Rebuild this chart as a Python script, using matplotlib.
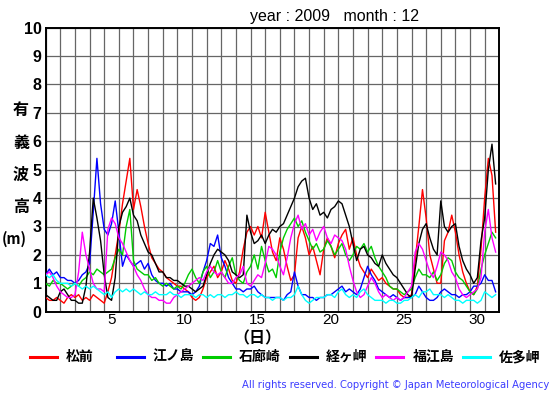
import numpy as np
import matplotlib
matplotlib.use('Agg')
import matplotlib.pyplot as plt
from matplotlib.lines import Line2D

plt.rcParams['font.family'] = ['Liberation Sans', 'Noto Sans CJK JP', 'DejaVu Sans']

# significant wave height (m), every 6 hours from Dec 1 00:00
stations = ['松前', '江ノ島', '石廊崎', '経ヶ岬', '福江島', '佐多岬']
colors = ['#ff0000', '#0000ff', '#00cc00', '#000000', '#ff00ff', '#00ffff']

matsumae = [0.5, 0.4, 0.4, 0.5, 0.4, 0.3, 0.5, 0.6, 0.5, 0.6, 0.4, 0.5, 0.4, 0.6, 0.5, 0.4,
            0.3, 0.7, 1.2, 2.0, 2.8, 3.8, 4.6, 5.4, 3.6, 4.3, 3.7, 3.0, 2.4, 1.9, 1.7, 1.5,
            1.4, 1.2, 1.1, 1.0, 0.9, 0.9, 0.8, 0.7, 0.5, 0.4, 0.5, 0.8, 1.2, 1.4, 1.6, 1.2,
            1.4, 1.8, 1.5, 1.1, 1.0, 1.4, 2.2, 2.8, 3.0, 2.7, 3.0, 2.6, 3.5, 2.8, 2.1, 1.8,
            2.6, 2.2, 1.6, 1.1, 1.3, 2.6, 3.0, 2.6, 2.0, 2.3, 1.8, 1.3, 2.2, 2.6, 2.3, 1.9,
            2.4, 2.7, 2.9, 2.2, 2.6, 2.0, 1.6, 1.4, 1.2, 1.5, 1.3, 1.1, 1.2, 1.0, 0.9, 0.8,
            0.8, 0.6, 0.5, 0.5, 0.6, 1.8, 3.0, 4.3, 3.3, 2.0, 1.5, 1.0, 1.0, 2.5, 2.8, 3.4,
            2.8, 2.0, 1.4, 1.0, 0.7, 0.6, 0.9, 2.2, 4.0, 5.4, 4.8, 2.8]
enoshima = [1.3, 1.5, 1.3, 1.4, 1.2, 1.2, 1.1, 1.1, 1.0, 1.1, 1.3, 1.4, 1.7, 3.5, 5.4, 3.8,
            2.9, 2.7, 3.1, 3.9, 2.8, 1.6, 2.0, 1.8, 1.6, 1.7, 1.8, 1.5, 1.7, 1.3, 1.1, 1.0,
            1.0, 0.9, 1.0, 0.8, 0.8, 0.7, 0.7, 0.7, 0.6, 0.7, 0.9, 1.4, 1.8, 2.4, 2.3, 2.7,
            1.9, 1.6, 1.2, 1.0, 0.8, 0.8, 0.7, 0.8, 0.8, 0.9, 0.7, 0.6, 0.5, 0.5, 0.5, 0.5,
            0.5, 0.4, 0.6, 0.7, 1.4, 0.9, 0.6, 0.6, 0.5, 0.5, 0.4, 0.5, 0.5, 0.6, 0.6, 0.7,
            0.8, 0.9, 0.7, 0.8, 0.7, 0.6, 0.8, 1.2, 1.6, 1.3, 1.1, 0.8, 0.7, 0.6, 0.5, 0.6,
            0.5, 0.4, 0.5, 0.5, 0.5, 0.6, 0.9, 0.7, 0.5, 0.4, 0.4, 0.5, 0.7, 0.8, 0.7, 0.6,
            0.6, 0.5, 0.6, 0.6, 0.7, 0.9, 0.9, 1.0, 1.3, 1.1, 1.1, 0.7]
irozaki = [1.0, 0.9, 1.1, 1.0, 1.0, 0.9, 0.8, 0.9, 1.0, 0.9, 1.1, 1.2, 1.4, 1.3, 1.5, 1.4,
           1.3, 1.4, 1.5, 1.9, 2.2, 2.0, 3.0, 3.6, 1.8, 1.5, 1.4, 1.3, 1.3, 1.1, 1.2, 1.0,
           0.9, 1.0, 0.9, 0.8, 0.9, 0.8, 1.0, 1.3, 1.5, 1.2, 1.0, 1.4, 1.6, 1.2, 1.4, 1.8,
           1.4, 1.2, 1.6, 1.9, 1.3, 1.1, 1.0, 1.4, 1.6, 2.0, 1.5, 2.3, 1.8, 1.4, 1.5, 1.2,
           2.1, 2.6, 2.9, 3.1, 3.3, 3.0, 3.2, 2.8, 2.5, 2.2, 2.4, 2.1, 2.2, 2.5, 2.3, 2.0,
           2.2, 2.4, 2.0, 1.8, 2.0, 2.3, 2.2, 2.4, 2.1, 2.3, 1.9, 1.6, 1.4, 1.2, 0.9, 0.8,
           0.8, 0.7, 0.6, 0.7, 0.8, 1.2, 1.5, 1.3, 1.3, 1.2, 1.4, 1.1, 1.3, 1.7, 1.9, 1.8,
           1.4, 1.2, 1.1, 0.9, 0.7, 0.6, 0.8, 1.5, 2.0, 2.4, 2.8, 2.6]
kyogamisaki = [0.6, 0.5, 0.4, 0.4, 0.7, 0.8, 0.6, 0.4, 0.4, 0.3, 0.3, 0.9, 2.1, 4.0, 3.3, 2.5,
               1.3, 0.5, 0.4, 1.2, 3.0, 3.5, 3.7, 4.0, 3.4, 3.2, 2.7, 2.4, 2.1, 2.0, 1.7, 1.4,
               1.4, 1.2, 1.2, 1.1, 1.1, 1.0, 0.9, 0.9, 0.8, 0.7, 0.8, 0.9, 1.3, 1.7, 2.0, 2.2,
               2.1, 2.0, 1.8, 1.4, 1.3, 1.2, 1.3, 3.4, 2.8, 2.4, 2.5, 2.7, 2.4, 2.7, 2.9, 2.8,
               3.0, 3.1, 3.4, 3.7, 4.0, 4.4, 4.6, 4.7, 4.0, 3.6, 3.8, 3.4, 3.5, 3.3, 3.6, 3.7,
               3.9, 3.8, 3.4, 3.0, 2.4, 1.8, 2.2, 2.3, 2.0, 1.9, 1.7, 1.6, 2.0, 1.7, 1.5, 1.3,
               1.2, 1.0, 0.8, 0.6, 0.5, 1.5, 2.4, 2.9, 3.1, 2.6, 2.2, 2.0, 3.9, 3.0, 2.8, 3.0,
               3.1, 2.3, 1.8, 1.5, 1.3, 1.0, 1.2, 2.5, 3.3, 5.0, 5.9, 4.5]
fukuejima = [1.3, 1.4, 1.2, 0.9, 0.7, 0.6, 0.5, 0.5, 0.6, 1.4, 2.8, 2.0, 1.5, 1.0, 0.8, 0.8,
             0.7, 2.9, 3.3, 3.1, 2.6, 2.4, 2.1, 1.8, 1.6, 1.3, 1.1, 0.8, 0.6, 0.5, 0.5, 0.4,
             0.4, 0.3, 0.3, 0.5, 0.6, 0.7, 0.8, 0.9, 1.0, 1.1, 1.2, 1.1, 1.4, 1.6, 1.4, 1.3,
             1.4, 1.2, 1.0, 1.0, 1.2, 1.3, 1.6, 1.0, 0.9, 1.1, 1.3, 1.2, 1.7, 2.3, 2.2, 2.0,
             1.6, 1.3, 1.9, 2.6, 3.1, 3.4, 2.9, 3.1, 2.7, 2.9, 2.5, 2.8, 3.0, 2.6, 2.4, 2.7,
             2.6, 2.5, 2.2, 1.6, 1.1, 0.7, 0.5, 0.6, 0.9, 1.2, 1.0, 0.7, 0.5, 0.6, 0.5, 0.4,
             0.5, 0.4, 0.5, 0.7, 0.9, 2.1, 2.4, 2.2, 1.8, 1.4, 1.2, 1.6, 2.1, 2.0, 1.8, 1.4,
             1.2, 0.8, 0.6, 0.5, 0.6, 0.7, 0.8, 1.2, 2.8, 3.6, 2.6, 2.1]
satamisaki = [1.3, 1.2, 1.3, 1.1, 1.0, 1.0, 1.0, 0.9, 1.0, 0.9, 0.8, 0.9, 0.8, 0.9, 0.8, 0.7,
              0.6, 0.7, 0.5, 0.7, 0.8, 0.7, 0.8, 0.7, 0.8, 0.7, 0.6, 0.7, 0.6, 0.6, 0.7, 0.6,
              0.6, 0.6, 0.7, 0.6, 0.6, 0.5, 0.6, 0.6, 0.6, 0.5, 0.6, 0.6, 0.5, 0.6, 0.5, 0.6,
              0.6, 0.5, 0.6, 0.6, 0.7, 0.6, 0.6, 0.5, 0.6, 0.6, 0.5, 0.6, 0.5, 0.5, 0.4, 0.5,
              0.5, 0.4, 0.5, 0.5, 0.6, 0.9, 0.6, 0.4, 0.3, 0.4, 0.5, 0.5, 0.5, 0.6, 0.6, 0.5,
              0.7, 0.8, 0.6, 0.5, 0.6, 0.5, 0.7, 0.8, 0.6, 0.5, 0.4, 0.4, 0.4, 0.3, 0.4, 0.4,
              0.3, 0.3, 0.4, 0.4, 0.5, 0.6, 0.5, 0.7, 0.7, 0.8, 0.6, 0.6, 0.6, 0.5, 0.6, 0.5,
              0.4, 0.4, 0.3, 0.4, 0.4, 0.4, 0.3, 0.4, 0.7, 0.6, 0.5, 0.6]
series = [matsumae, enoshima, irozaki, kyogamisaki, fukuejima, satamisaki]

day_ticks = [5, 10, 15, 20, 25, 30]
W, H = 555, 395
cjk = ['Noto Sans CJK JP', 'DejaVu Sans']

fig = plt.figure(figsize=(W / 100, H / 100), dpi=100)
ax = fig.add_axes([45.7 / W, 1 - 311.7 / H, (499.3 - 45.7) / W, (311.7 - 27.7) / H])

for vals, c in zip(series, colors):
    t = np.arange(len(vals)) * 6 / 24.0  # days since Dec 1 00:00
    ax.plot(t, vals, color=c, lw=1.0, zorder=3)

ax.set_xlim(0, 31)
ax.set_ylim(0, 10)
ax.set_xticks(np.arange(0, 32))
ax.set_xticklabels([])
ax.set_xticks([d - 0.5 for d in day_ticks], minor=True)
ax.set_xticklabels([str(d) for d in day_ticks], minor=True, fontsize=11)
ax.set_yticks(np.arange(0, 11))
ax.set_yticklabels([str(v) for v in range(11)], fontsize=11.5, fontweight='bold')
ax.tick_params(axis='both', which='both', length=0)
ax.tick_params(axis='x', which='minor', pad=1)
ax.tick_params(axis='y', pad=3)
ax.grid(True, which='major', color='#666666', lw=0.9, zorder=1)
for s in ax.spines.values():
    s.set_linewidth(1.4)

# title
fig.text(250 / W, 1 - 16 / H, 'year : 2009   month : 12', fontsize=11.5, va='center', ha='left')

# vertical y label
for ch, yp in zip(['有', '義', '波', '高'], [110, 143, 175, 207]):
    fig.text(21 / W, 1 - yp / H, ch, fontsize=11.5, fontweight='bold', ha='center', va='center',
             family=cjk)
fig.text(14 / W, 1 - 239 / H, '(m)', fontsize=10.5, fontweight='bold', ha='center', va='center',
         family=cjk)

fig.text(257 / W, 1 - 338 / H, '（日）', fontsize=11.5, fontweight='bold', ha='center', va='center',
         family=cjk)

# legend row
for i, (name, c) in enumerate(zip(stations, colors)):
    x0 = 30 + 86.6 * i
    fig.add_artist(Line2D([x0 / W, (x0 + 27) / W], [1 - 357 / H] * 2, color=c, lw=2.2))
    fig.text((x0 + 36) / W, 1 - 357 / H, name, fontsize=10, fontweight='bold', ha='left', va='center',
             family=cjk)

fig.text(549 / W, 1 - 385 / H, 'All rights reserved. Copyright © Japan Meteorological Agency',
         fontsize=7.2, color='#3c3cff', ha='right', va='center', family='DejaVu Sans')

fig.savefig('out.png', dpi=100)
